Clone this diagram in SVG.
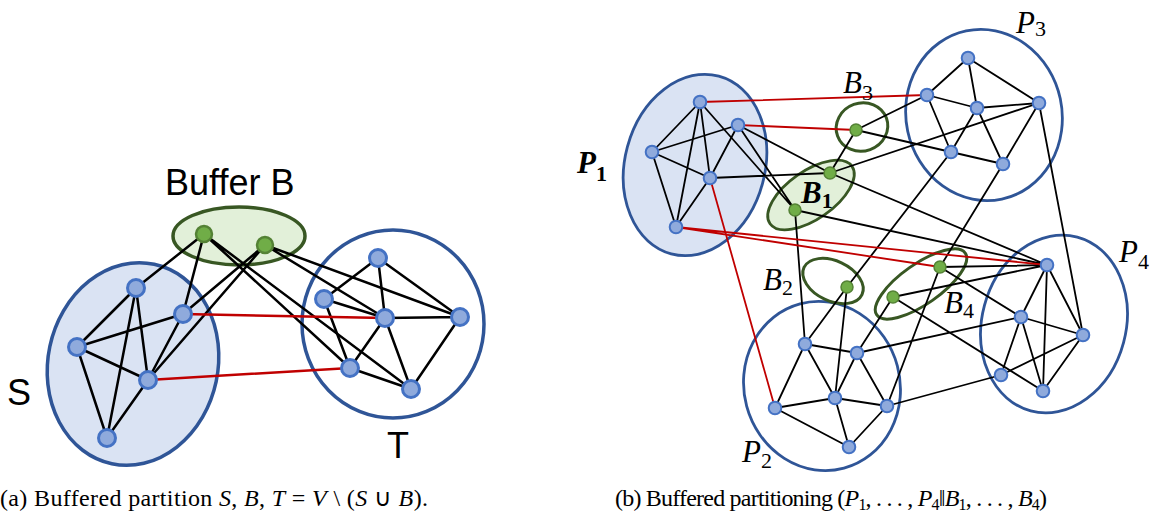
<svg xmlns="http://www.w3.org/2000/svg" width="1158" height="518" viewBox="0 0 1158 518">
<style>
.pf{fill:#dae3f3;stroke:#2f5597;stroke-width:3.5}
.po{fill:none;stroke:#2f5597;stroke-width:3.5}
.bf{fill:#e2f0d9;stroke:#385723;stroke-width:3.5}
.bo{fill:none;stroke:#385723;stroke-width:3}
.rp{stroke-width:2.8}
.bn{fill:#8faadc;stroke:#4472c4;stroke-width:3}
.gn{fill:#70ad47;stroke:#548235;stroke-width:2.5}
.sm .bn{stroke-width:2}
.sm .gn{stroke-width:1.5}
.e{stroke:#000;stroke-width:2.5;fill:none}
.r{stroke:#c00000;stroke-width:2.5;fill:none}
.thin .e,.thin .r{stroke-width:1.8}
.lab{font-family:"Liberation Sans",Arial,sans-serif;font-size:36px;fill:#000}
.m{font-family:"Liberation Serif","Times New Roman",serif;font-style:italic;font-size:31px;fill:#000}
.sub{font-style:normal;font-size:22px}
.cap{font-family:"Liberation Serif","Times New Roman",serif;font-size:24px;fill:#000}
.i{font-style:italic}
</style>

<!-- clusters (a) -->
<g id="cluster-S"><ellipse class="pf" cx="133" cy="364" rx="85" ry="102" transform="rotate(12 133 364)"/></g>
<g id="cluster-B"><ellipse class="bf" cx="239" cy="236" rx="66" ry="29"/></g>
<g id="cluster-T"><ellipse class="po" cx="393" cy="324" rx="91" ry="94"/></g>

<!-- clusters (b) -->
<g id="cluster-P1"><ellipse class="pf rp" cx="695" cy="165" rx="70" ry="92" transform="rotate(15 695 165)"/></g>
<g id="cluster-P2"><ellipse class="po rp" cx="822" cy="386" rx="78" ry="85" transform="rotate(-15 822 386)"/></g>
<g id="cluster-P3"><ellipse class="po rp" cx="984" cy="115" rx="78" ry="86" transform="rotate(-12 984 115)"/></g>
<g id="cluster-P4"><ellipse class="po rp" cx="1054" cy="324" rx="72" ry="90" transform="rotate(15 1054 324)"/></g>
<g id="cluster-B1"><ellipse class="bf rp" cx="811" cy="195" rx="50" ry="24" transform="rotate(-35 811 195)"/></g>
<g id="cluster-B2"><ellipse class="bo" cx="833" cy="281" rx="32" ry="20" transform="rotate(25 833 281)"/></g>
<g id="cluster-B3"><ellipse class="bo" cx="862" cy="127" rx="26" ry="24" transform="rotate(-20 862 127)"/></g>
<g id="cluster-B4"><ellipse class="bo" cx="921" cy="284" rx="54" ry="20" transform="rotate(-35 921 284)"/></g>

<!-- connectors -->
<g id="connectors">
 <g id="edges-a">
  <path class="e" d="M136 288L77 347M136 288L148 380M136 288L107 438M183 314L77 347M183 314L148 380M77 347L148 380M77 347L107 438M148 380L107 438"/>
  <path class="e" d="M204 234L136 288M204 234L183 314M265 245L183 314M265 245L148 380M204 234L350 368M204 234L411 389M265 245L385 318M265 245L460 317"/>
  <path class="e" d="M378 258L324 299M378 258L385 318M378 258L460 317M324 299L385 318M324 299L350 368M385 318L460 317M385 318L350 368M385 318L411 389M460 317L411 389M350 368L411 389"/>
  <path class="r" d="M183 314L385 318M148 380L350 368"/>
 </g>
 <g id="edges-b" class="thin">
  <path class="e" d="M700 102L652 152M700 102L710 178M700 102L676 227M738 125L652 152M738 125L710 178M652 152L710 178M652 152L676 227M710 178L676 227"/>
  <path class="e" d="M700 102L795 210M738 125L795 210M738 125L830 173M710 178L830 173M830 173L856 130M830 173L1039 103M830 173L1047 265M795 210L805 344M795 210L1047 265M856 130L927 95M856 130L951 152"/>
  <path class="e" d="M968 58L927 95M968 58L977 108M968 58L1039 103M927 95L977 108M927 95L951 152M977 108L1039 103M977 108L1003 164M977 108L951 152M951 152L1003 164M1039 103L1003 164M951 152L847 287M1003 164L940 267M1039 103L1083 335"/>
  <path class="e" d="M805 344L857 353M805 344L775 408M805 344L835 398M857 353L835 398M857 353L887 406M775 408L835 398M775 408L849 447M835 398L887 406M835 398L849 447M887 406L849 447"/>
  <path class="e" d="M805 344L847 287M835 398L847 287M857 353L893 297M887 406L940 267M857 353L1021 317M887 406L1001 375M940 267L1047 265M940 267L1021 317M893 297L1047 265M893 297L1043 391"/>
  <path class="e" d="M1047 265L1021 317M1047 265L1083 335M1047 265L1043 391M1021 317L1083 335M1021 317L1001 375M1021 317L1043 391M1083 335L1001 375M1083 335L1043 391"/>
  <path class="r" d="M700 102L927 95M738 125L856 130M710 178L775 408M676 227L1047 265M676 227L940 267"/>
 </g>
</g>

<!-- nodes (a) -->
<g id="S1"><circle class="bn" cx="136" cy="288" r="8.5"/></g>
<g id="S2"><circle class="bn" cx="183" cy="314" r="8.5"/></g>
<g id="S3"><circle class="bn" cx="77" cy="347" r="8.5"/></g>
<g id="S4"><circle class="bn" cx="148" cy="380" r="8.5"/></g>
<g id="S5"><circle class="bn" cx="107" cy="438" r="8.5"/></g>
<g id="Bn1"><circle class="gn" cx="204" cy="234" r="8"/></g>
<g id="Bn2"><circle class="gn" cx="265" cy="245" r="8"/></g>
<g id="T1"><circle class="bn" cx="378" cy="258" r="8.5"/></g>
<g id="T2"><circle class="bn" cx="324" cy="299" r="8.5"/></g>
<g id="T3"><circle class="bn" cx="385" cy="318" r="8.5"/></g>
<g id="T4"><circle class="bn" cx="460" cy="317" r="8.5"/></g>
<g id="T5"><circle class="bn" cx="350" cy="368" r="8.5"/></g>
<g id="T6"><circle class="bn" cx="411" cy="389" r="8.5"/></g>

<!-- nodes (b) -->
<g class="sm">
<g id="P1a"><circle class="bn" cx="700" cy="102" r="6.3"/></g>
<g id="P1b"><circle class="bn" cx="738" cy="125" r="6.3"/></g>
<g id="P1c"><circle class="bn" cx="652" cy="152" r="6.3"/></g>
<g id="P1d"><circle class="bn" cx="710" cy="178" r="6.3"/></g>
<g id="P1e"><circle class="bn" cx="676" cy="227" r="6.3"/></g>
<g id="B1a"><circle class="gn" cx="830" cy="173" r="6"/></g>
<g id="B1b"><circle class="gn" cx="795" cy="210" r="6"/></g>
<g id="B3a"><circle class="gn" cx="856" cy="130" r="6"/></g>
<g id="P3a"><circle class="bn" cx="968" cy="58" r="6.3"/></g>
<g id="P3b"><circle class="bn" cx="927" cy="95" r="6.3"/></g>
<g id="P3c"><circle class="bn" cx="977" cy="108" r="6.3"/></g>
<g id="P3d"><circle class="bn" cx="1039" cy="103" r="6.3"/></g>
<g id="P3e"><circle class="bn" cx="951" cy="152" r="6.3"/></g>
<g id="P3f"><circle class="bn" cx="1003" cy="164" r="6.3"/></g>
<g id="B2a"><circle class="gn" cx="847" cy="287" r="6"/></g>
<g id="B4a"><circle class="gn" cx="940" cy="267" r="6"/></g>
<g id="B4b"><circle class="gn" cx="893" cy="297" r="6"/></g>
<g id="P2a"><circle class="bn" cx="805" cy="344" r="6.3"/></g>
<g id="P2b"><circle class="bn" cx="857" cy="353" r="6.3"/></g>
<g id="P2c"><circle class="bn" cx="775" cy="408" r="6.3"/></g>
<g id="P2d"><circle class="bn" cx="835" cy="398" r="6.3"/></g>
<g id="P2e"><circle class="bn" cx="887" cy="406" r="6.3"/></g>
<g id="P2f"><circle class="bn" cx="849" cy="447" r="6.3"/></g>
<g id="P4a"><circle class="bn" cx="1047" cy="265" r="6.3"/></g>
<g id="P4b"><circle class="bn" cx="1021" cy="317" r="6.3"/></g>
<g id="P4c"><circle class="bn" cx="1083" cy="335" r="6.3"/></g>
<g id="P4d"><circle class="bn" cx="1001" cy="375" r="6.3"/></g>
<g id="P4e"><circle class="bn" cx="1043" cy="391" r="6.3"/></g>
</g>

<!-- labels -->
<g id="labels">
 <text class="lab" x="165" y="195">Buffer B</text>
 <text class="lab" x="7" y="405">S</text>
 <text class="lab" x="387" y="458">T</text>
 <text class="m" x="577" y="173" font-weight="bold">P<tspan class="sub" dy="8">1</tspan></text>
 <text class="m" x="1016" y="33">P<tspan class="sub" dy="3">3</tspan></text>
 <text class="m" x="1119" y="262">P<tspan class="sub" dy="7">4</tspan></text>
 <text class="m" x="742" y="462">P<tspan class="sub" dy="6">2</tspan></text>
 <text class="m" x="843" y="93">B<tspan class="sub" dy="7">3</tspan></text>
 <text class="m" x="801" y="203" font-weight="bold">B<tspan class="sub" dy="5">1</tspan></text>
 <text class="m" x="763" y="290">B<tspan class="sub" dy="5">2</tspan></text>
 <text class="m" x="944" y="313">B<tspan class="sub" dy="5">4</tspan></text>
</g>

<!-- captions -->
<g id="captions">
 <text class="cap" x="0" y="506" textLength="428" lengthAdjust="spacing">(a) Buffered partition <tspan class="i">S</tspan>, <tspan class="i">B</tspan>, <tspan class="i">T</tspan> = <tspan class="i">V</tspan> \ (<tspan class="i">S</tspan> ∪ <tspan class="i">B</tspan>).</text>
 <text class="cap" x="615" y="506" textLength="432" lengthAdjust="spacing">(b) Buffered partitioning (<tspan class="i">P</tspan><tspan font-size="16" dy="4">1</tspan><tspan dy="-4">, . . . , </tspan><tspan class="i">P</tspan><tspan font-size="16" dy="4">4</tspan><tspan dy="-4">‖</tspan><tspan class="i">B</tspan><tspan font-size="16" dy="4">1</tspan><tspan dy="-4">, . . . , </tspan><tspan class="i">B</tspan><tspan font-size="16" dy="4">4</tspan><tspan dy="-4">)</tspan></text>
</g>
</svg>
